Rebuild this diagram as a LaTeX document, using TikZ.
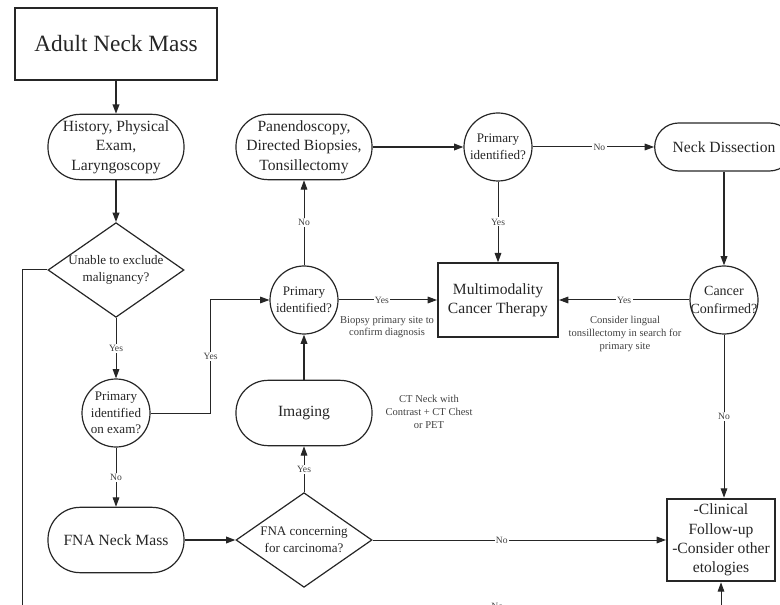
\documentclass[tikz,border=0pt]{standalone}
\usepackage{fontspec}
\setmainfont{Liberation Serif}
\usetikzlibrary{arrows.meta, shapes.geometric, positioning}
\colorlet{ink}{black!85}
\tikzset{
  startbox/.style={
    rectangle, draw=ink, line width=1.5pt,
    minimum width=151pt, minimum height=54pt,
    font=\fontsize{17.5}{21}\selectfont, text=ink
  },
  pill/.style={
    rectangle, rounded corners=24pt, draw=ink, line width=0.9pt,
    minimum width=102pt, minimum height=49pt, inner sep=0pt,
    align=center, font=\fontsize{11.7}{14.5}\selectfont, text=ink
  },
  query/.style={
    circle, draw=ink, line width=0.9pt,
    minimum size=51pt, inner sep=-8pt,
    align=center, font=\fontsize{9.8}{12.5}\selectfont, text=ink
  },
  decision/.style={
    diamond, draw=ink, line width=0.9pt,
    minimum width=102pt, minimum height=71pt, inner sep=-14pt,
    align=center, font=\fontsize{9.8}{12.5}\selectfont, text=ink
  },
  endbox/.style={
    rectangle, draw=ink, line width=1.5pt, inner sep=0pt,
    align=center, font=\fontsize{11.7}{14.5}\selectfont, text=ink
  },
  note/.style={align=center, font=\fontsize{7.9}{9.5}\selectfont, text=black!75},
  arrow/.style={-{Triangle[length=7pt,width=5pt]}, line width=1.1pt, draw=ink},
  link/.style={-{Triangle[length=7pt,width=5pt]}, line width=0.75pt, draw=ink},
  tag/.style={fill=white, inner sep=1pt, font=\fontsize{7.2}{8}\selectfont, text=black!75}
}

\begin{document}
\begin{tikzpicture}[x=0.75pt, y=-0.75pt]
  \useasboundingbox (0,0) rectangle (780,605);

  % left column
  \node[startbox] (adult) at (116,44) {Adult Neck Mass};
  \node[pill] (history) at (116,147) {History, Physical\\Exam,\\Laryngoscopy};
  \node[decision] (unable) at (116,270) {Unable to exclude\\malignancy?};
  \node[query] (exam) at (116,413) {Primary\\identified\\on exam?};
  \node[pill] (fna) at (116,540) {FNA Neck Mass};

  % middle column
  \node[pill] (pan) at (304,147) {Panendoscopy,\\Directed Biopsies,\\Tonsillectomy};
  \node[query] (mid) at (304,300) {Primary\\identified?};
  \node[pill] (imaging) at (304,413) {Imaging};
  \node[decision] (fnaq) at (304,540) {FNA concerning\\for carcinoma?};

  % right part
  \node[query] (top) at (498,147) {Primary\\identified?};
  \node[endbox, minimum width=90pt, minimum height=55pt] (multi) at (498,300)
    {Multimodality\\Cancer Therapy};
  \node[pill, minimum width=104pt, minimum height=36pt, rounded corners=18pt]
    (neck) at (724,147) {Neck Dissection};
  \node[query, font=\fontsize{10.5}{13}\selectfont] (cancer) at (724,300)
    {Cancer\\Confirmed?};
  \node[endbox, minimum width=81pt, minimum height=62pt] (clinical) at (721,540)
    {-Clinical\\Follow-up\\-Consider other\\etologies};

  % notes
  \node[note] (biopsynote) at (387,327) {Biopsy primary site to\\confirm diagnosis};
  \node[note] (lingualnote) at (625,334)
    {Consider lingual\\tonsillectomy in search for\\primary site};
  \node[note] (ctnote) at (429,412) {CT Neck with\\Contrast + CT Chest\\or PET};

  \coordinate (floor) at (22,606);

  \foreach \a/\b in {adult/history, history/unable, pan/top, neck/cancer,
                     imaging/mid, fna/fnaq}
    \draw[arrow] (\a) -- (\b);

  \draw[link] (unable) -- (exam) node[tag, midway] {Yes};
  \draw[link] (exam) -- (fna) node[tag, midway] {No};
  \draw[link] (exam.east) -- ++(60,0) |- (mid.west) node[tag, pos=0.25] {Yes};
  \draw[link] (mid) -- (pan) node[tag, midway] {No};
  \draw[link] (mid) -- (multi) node[tag, pos=0.44] {Yes};
  \draw[link] (top) -- (neck) node[tag, pos=0.55] {No};
  \draw[link] (top) -- (multi) node[tag, midway] {Yes};
  \draw[link] (cancer) -- (multi) node[tag, midway] {Yes};
  \draw[link] (cancer) -- (cancer |- clinical.north) node[tag, midway] {No};
  \draw[link] (fnaq) -- (imaging) node[tag, midway] {Yes};
  \draw[link] (fnaq) -- (clinical) node[tag, pos=0.44] {No};
  \draw[link] (unable.west) -| (floor) -| (clinical.south) node[tag, pos=0.34] {No};
\end{tikzpicture}
\end{document}
